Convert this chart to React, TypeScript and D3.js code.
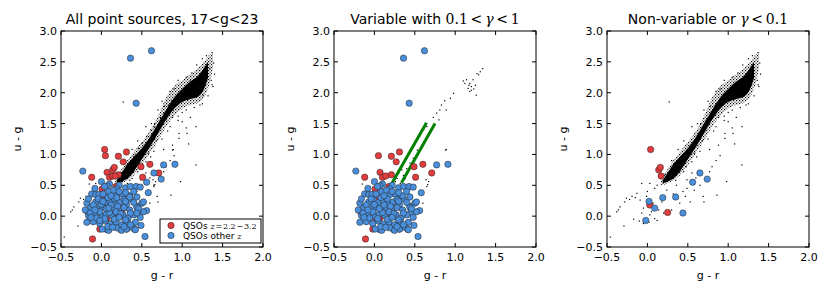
import React from 'react'
import * as d3 from 'd3'

// axis ticks
const grTicks = [-0.5, 0, 0.5, 1, 1.5, 2]
const ugTicks = [-0.5, 0, 0.5, 1, 1.5, 2, 2.5, 3]

// stellar locus outline [g-r, lower u-g, upper u-g]
const locusOuter = [
  [0.17, 0.5, 0.6], [0.25, 0.53, 0.76], [0.32, 0.58, 0.9], [0.4, 0.66, 1.04], [0.5, 0.83, 1.2],
  [0.6, 1.02, 1.38], [0.7, 1.22, 1.62], [0.8, 1.45, 1.92], [0.9, 1.62, 2.1], [1.0, 1.74, 2.2],
  [1.1, 1.8, 2.3], [1.2, 1.84, 2.4], [1.28, 1.95, 2.52], [1.34, 2.15, 2.62], [1.38, 2.4, 2.64]
]
const locusCore = [
  [0.19, 0.53, 0.58], [0.25, 0.56, 0.7], [0.32, 0.61, 0.84], [0.4, 0.72, 0.96], [0.5, 0.92, 1.1],
  [0.6, 1.12, 1.28], [0.7, 1.34, 1.5], [0.8, 1.56, 1.72], [0.9, 1.74, 1.92], [1.0, 1.85, 2.06],
  [1.1, 1.9, 2.18], [1.2, 1.94, 2.28], [1.27, 2.06, 2.4], [1.32, 2.24, 2.5]
]

// sparse stars, non-variable (panels 1 and 3)
const starsNonVar = [
  [0.96, 1.34], [0.96, 1.26], [0.88, 1.15], [1.08, 1.17], [0.77, 1.08], [0.61, 0.96], [0.85, 0.9],
  [1.17, 0.83], [0.98, 0.56], [0.77, 0.72], [0.73, 0.61], [0.65, 0.5], [0.86, 0.34], [0.69, 0.32],
  [0.58, 0.42], [0.49, 0.45], [0.47, 0.32], [0.4, 0.21], [0.53, 0.23], [0.36, 0.5], [0.24, 0.42],
  [0.3, 0.1], [0.09, 0.45], [-0.07, 0.53], [0.03, 0.53], [-0.13, 0.37], [-0.19, 0.32], [-0.26, 0.29],
  [-0.09, 0.26], [-0.01, 0.32], [-0.28, 0.23], [-0.34, 0.15], [-0.36, 0.1], [-0.38, 0.07], [-0.17, -0.05],
  [-0.07, 0.05], [0.03, 0.02], [0.09, -0.04], [0.14, 0.1], [-0.29, -0.16], [-0.46, -0.34], [-0.05, -0.12],
  [0.05, 0.07], [0.18, 0.23], [0.07, 0.21], [-0.05, 0.13], [0.49, 0.59], [0.7, 0.23], [0.27, 1.85],
  [1.0, 1.53], [1.05, 1.43], [1.17, 1.45], [1.06, 1.34], [1.37, 2.13], [1.39, 2.48], [-0.22, 0.27],
  [-0.15, 0.3], [0.12, 0.5], [0.0, 0.4], [0.22, 0.3], [0.32, 0.36], [0.44, 0.4], [0.6, 0.62],
  [0.8, 0.8], [0.9, 0.98], [0.55, 0.7], [0.12, -0.07], [0.02, -0.1], [-0.1, -0.08], [0.2, 0.05],
  // halo of the locus
  [0.22, 0.68], [0.3, 0.9], [0.38, 1.08], [0.45, 1.22], [0.55, 1.45], [0.62, 1.5], [0.7, 1.72],
  [0.75, 1.86], [0.85, 2.02], [0.95, 2.2], [1.05, 2.25], [1.18, 2.45], [1.3, 2.6], [1.37, 2.65],
  [1.25, 2.55], [0.35, 0.58], [0.45, 0.72], [0.55, 0.88], [0.65, 1.05], [0.75, 1.25], [0.85, 1.45],
  [0.95, 1.62], [1.05, 1.72], [1.15, 1.76], [1.25, 1.82], [1.32, 1.95], [1.38, 2.1], [1.4, 2.3],
  [1.36, 2.2], [0.95, 1.55], [1.1, 1.6], [0.68, 1.22], [0.82, 1.38], [1.22, 1.8], [0.58, 1.02],
  [0.48, 0.8], [0.88, 1.6], [1.0, 1.68], [0.66, 1.5], [0.78, 1.78], [0.9, 2.06], [1.12, 2.32]
]

// sparse stars, variable (panels 1 and 2)
const starsVar = [
  [1.16, 2.07], [1.18, 2.15], [1.22, 2.21], [1.27, 2.31], [1.29, 2.29], [1.25, 2.12], [1.14, 2.21],
  [1.12, 2.15], [1.2, 2.04], [1.26, 1.96], [1.31, 2.34], [1.34, 2.39], [1.1, 2.19], [1.18, 2.02],
  [1.2, 2.1], [1.23, 2.06], [1.17, 2.12], [0.98, 1.99], [0.94, 1.91], [0.87, 1.87], [0.83, 1.8],
  [0.81, 1.72], [0.77, 1.67], [0.73, 1.6], [0.8, 1.56], [0.89, 1.72], [0.65, 1.45], [0.61, 1.4],
  [0.56, 1.29], [0.5, 1.18], [0.46, 1.1], [0.42, 0.99], [0.89, 1.08], [0.59, 1.15], [0.3, 0.69],
  [0.34, 0.75], [0.4, 0.77], [0.44, 0.86], [0.48, 0.94], [0.4, 0.96], [0.53, 1.07], [0.38, 0.61],
  [0.28, 0.61], [0.32, 0.53], [0.67, 0.56], [0.65, 0.48], [-0.15, 0.52], [0.64, 0.59], [0.66, 0.51],
  [0.88, 1.07], [0.6, 0.21], [0.36, 0.66], [0.26, 0.56], [0.5, 0.5]
]

// QSOs 2.2<z<3.2
const redVar = [
  [0.05, 0.98], [0.21, 0.97], [0.27, 0.88], [0.31, 1.04], [0.49, 0.8], [0.6, 0.84], [0.71, 0.7],
  [-0.12, 0.63], [0.07, 0.71], [0.1, 0.63], [0.14, 0.65], [0.21, 0.67], [0.51, 0.63], [0.18, 0.48],
  [0.01, 0.44], [-0.11, -0.37], [-0.02, -0.21], [-0.17, 0.07], [-0.03, -0.05], [0.18, 0.0],
  [0.07, -0.03], [0.23, 0.13], [0.12, 0.1], [0.3, -0.05], [0.05, 0.3]
]
const redNonVar = [[0.04, 1.08], [0.14, 0.75], [0.16, 0.79], [0.17, 0.65], [0.03, 0.18], [0.25, 0.06]]

// QSOs other z
const blueVar = [
  [0.36, 2.56], [0.62, 2.68], [0.43, 1.83], [0.77, 0.83], [0.91, 0.84], [-0.23, 0.73],
  [0.0, 0.56], [0.1, 0.52], [0.22, 0.5], [0.3, 0.46], [0.36, 0.48], [0.43, 0.48], [0.48, 0.47],
  [0.58, 0.38], [0.5, 0.21], [0.56, 0.09], [0.45, 0.06], [0.54, -0.33], [0.49, -0.15], [0.41, -0.21],
  [0.31, -0.21], [0.24, -0.22], [0.07, -0.22], [-0.18, -0.1], [-0.12, 0.36],
  [-0.07, 0.35], [0.07, 0.49], [0.19, 0.44], [0.25, 0.36], [0.32, 0.32], [0.44, 0.31], [0.36, 0.28],
  [0.44, 0.16], [-0.03, 0.35], [0.09, 0.4], [0.19, 0.35], [0.35, 0.33],
  [-0.18, 0.21], [-0.07, 0.23], [-0.01, 0.26], [0.05, 0.22], [0.11, 0.24], [0.17, 0.21], [0.23, 0.23],
  [0.31, 0.19], [0.4, 0.22], [0.52, 0.23], [-0.2, 0.1], [-0.13, 0.14], [-0.05, 0.12], [0.02, 0.15],
  [0.08, 0.1], [0.14, 0.14], [0.21, 0.1], [0.28, 0.14], [0.35, 0.1], [0.44, 0.14], [0.52, 0.07],
  [-0.16, 0.01], [-0.08, 0.03], [0.01, 0.0], [0.06, 0.03], [0.13, 0.01], [0.19, -0.03], [0.27, 0.02],
  [0.33, -0.03], [0.4, 0.02], [-0.1, -0.09], [-0.02, -0.12], [0.05, -0.08],
  [0.11, -0.13], [0.18, -0.1], [0.25, -0.14], [0.32, -0.1], [0.42, -0.1], [0.01, -0.21], [0.09, -0.23],
  [0.19, -0.19], [0.25, -0.23], [0.31, -0.21], [0.38, -0.18], [-0.08, 0.45],
  [0.04, 0.48], [0.15, 0.42], [-0.04, 0.28], [0.08, 0.3], [0.16, 0.28], [0.28, 0.27], [-0.1, 0.18],
  [0.0, 0.19], [0.12, 0.18], [0.2, 0.16], [0.3, 0.24], [-0.14, 0.05], [-0.02, 0.07], [0.1, 0.06],
  [0.18, 0.07], [0.24, 0.04], [0.36, 0.05], [-0.06, -0.03], [0.04, -0.04], [0.16, -0.05], [0.22, -0.02],
  [0.3, -0.06], [-0.13, -0.02], [0.08, -0.17], [0.14, -0.18], [0.28, -0.17], [0.36, -0.14],
  [0.02, 0.36], [0.12, 0.33], [0.22, 0.4], [0.3, 0.38], [-0.16, 0.28], [0.4, 0.4], [0.46, 0.12],
  [0.48, -0.02], [0.42, -0.22], [0.06, 0.12], [-0.08, 0.1]
]
const blueNonVar = [
  [0.02, 0.24], [-0.02, -0.07], [0.09, 0.13], [0.19, 0.3], [0.35, 0.31], [0.44, 0.05],
  [0.56, 0.55], [0.65, 0.7], [0.74, 0.6]
]

// variability cut lines drawn in the middle panel
const cutLines = [
  [[0.22, 0.54], [0.645, 1.515]],
  [[0.335, 0.54], [0.75, 1.5]]
]

const RED = '#e23c3c'
const BLUE = '#4a8fdb'
const FONT = '"DejaVu Sans", sans-serif'
const MATH = '"DejaVu Serif", serif'

const W = 202
const H = 216
const TOP = 31

type Pt = number[]

const Panel = ({ left, title, stars, locus, reds, blues, lines, legend }: any) => {
  const x = d3.scaleLinear().domain([-0.5, 2]).range([0, W])
  const y = d3.scaleLinear().domain([-0.5, 3]).range([H, 0])
  const area = d3.area<Pt>().x(d => x(d[0])).y0(d => y(d[1])).y1(d => y(d[2])).curve(d3.curveMonotoneX)
  const fmt = d3.format('.1f')

  return (
    <g transform={`translate(${left},${TOP})`}>
      <defs>
        <clipPath id={`clip${left}`}><rect width={W} height={H} /></clipPath>
        <pattern id={`speck${left}`} width={3} height={3} patternUnits="userSpaceOnUse">
          <rect x={0} y={0} width={1.2} height={1.2} fill="#000" />
          <rect x={1.5} y={1.6} width={1.1} height={1.1} fill="#000" />
        </pattern>
      </defs>
      <g clipPath={`url(#clip${left})`}>
        {locus && <path d={area(locusOuter) || ''} fill={`url(#speck${left})`} />}
        {locus && <path d={area(locusCore) || ''} fill="#000" />}
        {stars.map((d: Pt, i: number) => (
          <rect key={'s' + i} x={x(d[0]) - 0.6} y={y(d[1]) - 0.6} width={1.2} height={1.2} fill="#000" />
        ))}
        {lines && lines.map((l: Pt[], i: number) => (
          <line key={'l' + i} x1={x(l[0][0])} y1={y(l[0][1])} x2={x(l[1][0])} y2={y(l[1][1])}
            stroke="#008000" strokeWidth={3} />
        ))}
        {reds.map((d: Pt, i: number) => (
          <circle key={'r' + i} cx={x(d[0])} cy={y(d[1])} r={3.2} fill={RED} stroke="#222" strokeWidth={0.5} />
        ))}
        {blues.map((d: Pt, i: number) => (
          <circle key={'b' + i} cx={x(d[0])} cy={y(d[1])} r={3.2} fill={BLUE} stroke="#222" strokeWidth={0.5} />
        ))}
      </g>
      <rect width={W} height={H} fill="none" stroke="#000" strokeWidth={1} />
      {grTicks.map(t => (
        <g key={'x' + t}>
          <line x1={x(t)} x2={x(t)} y1={H} y2={H - 4} stroke="#000" />
          <line x1={x(t)} x2={x(t)} y1={0} y2={4} stroke="#000" />
          <text x={x(t)} y={H + 14} textAnchor="middle" fontSize={11} fontFamily={FONT}>{fmt(t)}</text>
        </g>
      ))}
      {ugTicks.map(t => (
        <g key={'y' + t}>
          <line x1={0} x2={4} y1={y(t)} y2={y(t)} stroke="#000" />
          <line x1={W} x2={W - 4} y1={y(t)} y2={y(t)} stroke="#000" />
          <text x={-4} y={y(t) + 4} textAnchor="end" fontSize={11} fontFamily={FONT}>{fmt(t)}</text>
        </g>
      ))}
      <text x={W / 2} y={H + 32} textAnchor="middle" fontSize={11} fontFamily={FONT}>g - r</text>
      <text transform={`translate(${-40},${H / 2}) rotate(-90)`} textAnchor="middle" fontSize={11} fontFamily={FONT}>u - g</text>
      <text x={W / 2} y={-7} textAnchor="middle" fontSize={14} fontFamily={FONT}>{title}</text>
      {legend && (
        <g transform={`translate(${W - 103},${H - 28})`}>
          <rect width={101} height={24} fill="#fff" stroke="#000" strokeWidth={1} />
          <circle cx={11} cy={6.5} r={3.2} fill={RED} stroke="#222" strokeWidth={0.5} />
          <circle cx={11} cy={16.5} r={3.2} fill={BLUE} stroke="#222" strokeWidth={0.5} />
          <text x={23} y={9.5} fontSize={9} fontFamily={FONT}>QSOs <tspan fontFamily={MATH} fontSize={8}><tspan fontStyle="italic">z</tspan>{'\u200a=\u200a2.2\u200a\u2212\u200a3.2'}</tspan></text>
          <text x={23} y={19.5} fontSize={9} fontFamily={FONT}>QSOs other <tspan fontFamily={MATH} fontStyle="italic" fontSize={8}>z</tspan></text>
        </g>
      )}
    </g>
  )
}

const App = () => {
  return (
    <svg width={830} height={291} style={{ position: 'absolute', left: 0, top: 0, background: '#fff' }}>
      <Panel
        left={61}
        title="All point sources, 17<g<23"
        stars={[...starsNonVar, ...starsVar]}
        locus
        reds={[...redVar, ...redNonVar]}
        blues={[...blueVar, ...blueNonVar]}
        legend
      />
      <Panel
        left={334}
        title={<>Variable with <tspan fontFamily={MATH}>{'0.1\u2009<\u2009'}<tspan fontStyle="italic">γ</tspan>{'\u2009<\u20091'}</tspan></>}
        stars={starsVar}
        reds={redVar}
        blues={blueVar}
        lines={cutLines}
      />
      <Panel
        left={607}
        title={<>Non-variable or <tspan fontFamily={MATH}><tspan fontStyle="italic">γ</tspan>{'\u2009<\u20090.1'}</tspan></>}
        stars={starsNonVar}
        locus
        reds={redNonVar}
        blues={blueNonVar}
      />
    </svg>
  )
}

export default App
